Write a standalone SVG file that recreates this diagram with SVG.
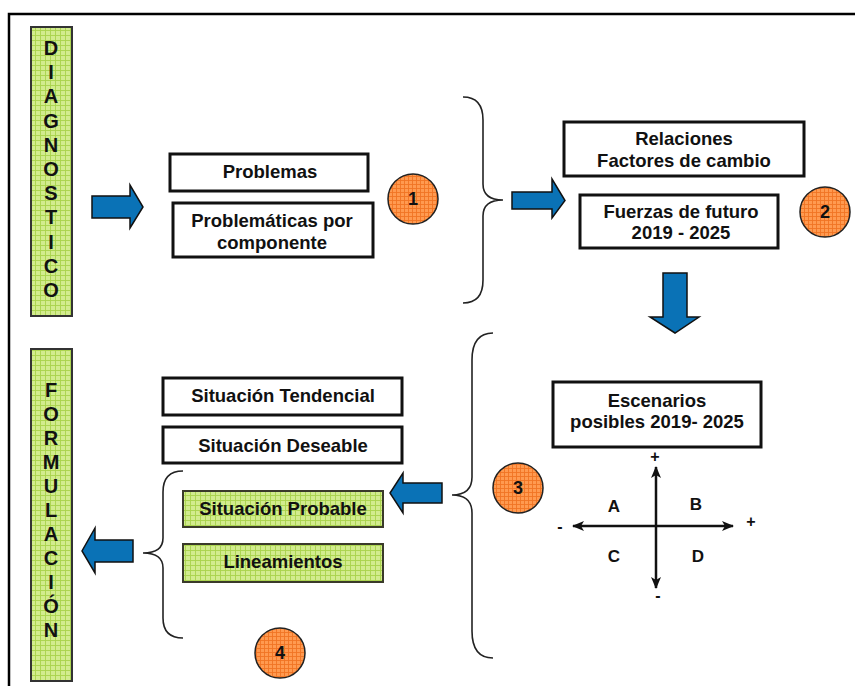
<svg xmlns="http://www.w3.org/2000/svg" width="855" height="686" viewBox="0 0 855 686">
<defs>
<pattern id="gGrid" width="5" height="5" patternUnits="userSpaceOnUse">
<rect width="5" height="5" fill="#d2ec8e"/>
<path d="M0,0.5 H5 M0.5,0 V5" stroke="#a9d34c" stroke-width="0.9"/>
</pattern>
<pattern id="oGrid" width="4" height="4" patternUnits="userSpaceOnUse">
<rect width="4" height="4" fill="#ff9a50"/>
<path d="M0,0.5 H4 M0.5,0 V4" stroke="#f07424" stroke-width="0.9"/>
</pattern>
<marker id="ah" viewBox="0 0 12 10" refX="11" refY="5" markerWidth="12" markerHeight="10" markerUnits="userSpaceOnUse" orient="auto-start-reverse">
<path d="M0,0 L12,5 L0,10 L3,5 z" fill="#111"/>
</marker>
<style>
.box{fill:#fff;stroke:#111;stroke-width:3}
.gbox{fill:url(#gGrid);stroke:#3a3a2a;stroke-width:2}
.bar{fill:url(#gGrid);stroke:#333;stroke-width:2}
.circ{fill:url(#oGrid);stroke:#222;stroke-width:1.5}
.arrow{fill:#0a72b6;stroke:#111;stroke-width:1.5;stroke-linejoin:miter}
.brace{fill:none;stroke:#222;stroke-width:1.6}
.axis{fill:none;stroke:#111;stroke-width:2.5}
text{font-family:"Liberation Sans",Arial,sans-serif;font-weight:bold;fill:#111}
.t{font-size:18.5px;text-anchor:middle}
.v{font-size:20px;text-anchor:middle}
.n{font-size:18px;text-anchor:middle}
.q{font-size:17px;text-anchor:middle}
.s{font-size:16px;text-anchor:middle}
</style>
</defs>
<rect width="855" height="686" fill="#fff"/>
<g id="frame">
<path d="M9,686 V14 H855" fill="none" stroke="#000" stroke-width="2.5"/>
</g>
<g id="diagnostico">
<rect class="bar" x="31" y="27" width="41" height="289"/>
<text class="v" x="51" y="55">D</text>
<text class="v" x="51" y="79">I</text>
<text class="v" x="51" y="103">A</text>
<text class="v" x="51" y="128">G</text>
<text class="v" x="51" y="152">N</text>
<text class="v" x="51" y="176">O</text>
<text class="v" x="51" y="200">S</text>
<text class="v" x="51" y="224">T</text>
<text class="v" x="51" y="249">I</text>
<text class="v" x="51" y="273">C</text>
<text class="v" x="51" y="297">O</text>
</g>
<g id="formulacion">
<rect class="bar" x="31" y="349" width="41" height="332"/>
<text class="v" x="51" y="397">F</text>
<text class="v" x="51" y="421">O</text>
<text class="v" x="51" y="445">R</text>
<text class="v" x="51" y="469">M</text>
<text class="v" x="51" y="493">U</text>
<text class="v" x="51" y="517">L</text>
<text class="v" x="51" y="541">A</text>
<text class="v" x="51" y="565">C</text>
<text class="v" x="51" y="589">I</text>
<text class="v" x="51" y="613">Ó</text>
<text class="v" x="51" y="637">N</text>
</g>
<g id="problemas">
<rect class="box" x="170" y="154" width="198" height="37"/>
<text class="t" x="270" y="178">Problemas</text>
</g>
<g id="problematicas">
<rect class="box" x="173" y="203" width="200" height="54"/>
<text class="t" x="272" y="227">Problemáticas por</text>
<text class="t" x="272" y="249">componente</text>
</g>
<g id="c1"><circle class="circ" cx="413" cy="199" r="25"/><text class="n" x="413" y="205">1</text></g>
<g id="relaciones">
<rect class="box" x="564" y="122" width="240" height="54"/>
<text class="t" x="684" y="145">Relaciones</text>
<text class="t" x="684" y="167">Factores de cambio</text>
</g>
<g id="fuerzas">
<rect class="box" x="580" y="195" width="198" height="53"/>
<text class="t" x="681" y="218">Fuerzas de futuro</text>
<text class="t" x="681" y="239">2019 - 2025</text>
</g>
<g id="c2"><circle class="circ" cx="825" cy="212" r="25"/><text class="n" x="825" y="218">2</text></g>
<g id="escenarios">
<rect class="box" x="553" y="382" width="208" height="65"/>
<text class="t" x="657" y="407">Escenarios</text>
<text class="t" x="657" y="428">posibles 2019- 2025</text>
</g>
<g id="c3"><circle class="circ" cx="518" cy="488" r="25"/><text class="n" x="518" y="494">3</text></g>
<g id="tendencial">
<rect class="box" x="163" y="378" width="239" height="37"/>
<text class="t" x="283" y="402">Situación Tendencial</text>
</g>
<g id="deseable">
<rect class="box" x="163" y="427" width="239" height="36"/>
<text class="t" x="283" y="452">Situación Deseable</text>
</g>
<g id="probable">
<rect class="gbox" x="183" y="491" width="200" height="36"/>
<text class="t" x="283" y="515">Situación Probable</text>
</g>
<g id="lineamientos">
<rect class="gbox" x="183" y="544" width="200" height="38"/>
<text class="t" x="283" y="568">Lineamientos</text>
</g>
<g id="c4"><circle class="circ" cx="280" cy="653" r="25"/><text class="n" x="280" y="659">4</text></g>
<g id="quadrant">
<line class="axis" x1="656" y1="588" x2="656" y2="467" marker-start="url(#ah)" marker-end="url(#ah)"/>
<line class="axis" x1="573" y1="526" x2="733" y2="526" marker-start="url(#ah)" marker-end="url(#ah)"/>
<text class="s" x="655" y="462">+</text>
<text class="s" x="658" y="601">-</text>
<text class="s" x="560" y="532">-</text>
<text class="s" x="751" y="527">+</text>
<text class="q" x="614" y="512">A</text>
<text class="q" x="696" y="510">B</text>
<text class="q" x="614" y="562">C</text>
<text class="q" x="698" y="562">D</text>
</g>
<g id="connectors">
<polygon class="arrow" points="92,196 130,196 130,185 143,207 130,228 130,218 92,218"/>
<polygon class="arrow" points="512,192 552,192 552,179 565,200.5 552,218 552,209 512,209"/>
<polygon class="arrow" points="663,273 687,273 687,317 699,317 675,333 650,317 663,317"/>
<polygon class="arrow" points="442,483 403,483 403,473 390,493 403,513 403,503 442,503"/>
<polygon class="arrow" points="133,540 95,540 95,528 82,551 95,573 95,562 133,562"/>
<path class="brace" d="M463,97 Q483,97 483,120 L483,184 Q483,200 503,200 Q483,200 483,216 L483,280 Q483,303 463,303"/>
<path class="brace" d="M493,333 Q472,333 472,360 L472,477 Q472,495 452,495 Q472,495 472,513 L472,631 Q472,658 493,658"/>
<path class="brace" d="M183,471 Q163,471 163,492 L163,538 Q163,553 143,553 Q163,553 163,568 L163,618 Q163,638 183,638"/>
</g>
</svg>
